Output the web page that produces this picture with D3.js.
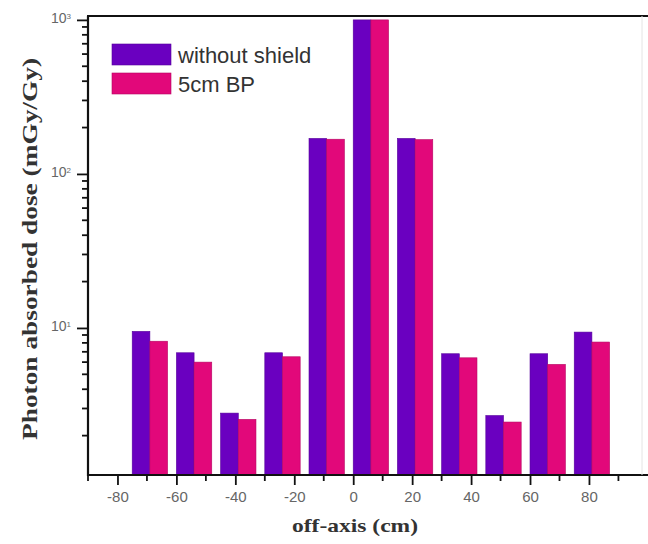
<!DOCTYPE html>
<html lang="en">
<head>
<meta charset="utf-8">
<title>Photon absorbed dose</title>
<script src="https://d3js.org/d3.v7.min.js"></script>
<style>
  body { margin: 0; background: #fff; }
  .tick text { font-family: "Liberation Sans", Arial, sans-serif; fill: #666; }
</style>
</head>
<body>
<script>
// data
const positions = [-75, -60, -45, -30, -15, 0, 15, 30, 45, 60, 75];
const withoutShield = [9.5, 6.9, 2.8, 6.9, 170, 1000, 170, 6.8, 2.7, 6.8, 9.4];
const bp5cm = [8.2, 6.0, 2.55, 6.5, 168, 1000, 167, 6.4, 2.45, 5.8, 8.1];
const seriesNames = ["without shield", "5cm BP"];
const xTicks = [-80, -60, -40, -20, 0, 20, 40, 60, 80];
const yTicks = [10, 100, 1000];

const width = 648, height = 544;
const plotL = 88, plotR = 642, plotT = 16, plotB = 475;
const colors = ["#6a00c0", "#e2087a"];
const barW = 6; // in x units

const svg = d3.select("body").append("svg")
  .attr("width", width).attr("height", height);

const x = d3.scaleLinear().domain([-90, 98]).range([plotL, plotR]);
const y = d3.scaleLog().domain([1.11, 1060]).range([plotB, plotT]);

// bars
[withoutShield, bp5cm].forEach((vals, s) => {
  svg.append("g").selectAll("rect")
    .data(positions)
    .join("rect")
    .attr("x", (d) => x(d + s * barW))
    .attr("width", x(barW) - x(0))
    .attr("y", (d, i) => y(vals[i]))
    .attr("height", (d, i) => plotB - y(vals[i]))
    .attr("fill", colors[s])
    .attr("stroke", d3.color(colors[s]).darker(0.6))
    .attr("stroke-width", 0.6);
});

// minor ticks
const xMinor = d3.range(-90, 100, 10).filter(v => v % 20 !== 0);
svg.append("g").selectAll("line")
  .data(xMinor)
  .join("line")
  .attr("x1", d => x(d)).attr("x2", d => x(d))
  .attr("y1", plotB).attr("y2", plotB + 6)
  .attr("stroke", "#111").attr("stroke-width", 1.8);

const yMinor = [];
[1, 10, 100].forEach(dec => {
  for (let k = 2; k <= 9; k++) {
    if (dec * k > 1.11 && dec * k < 1060) yMinor.push(dec * k);
  }
});
svg.append("g").selectAll("line")
  .data(yMinor)
  .join("line")
  .attr("x1", plotL - 6).attr("x2", plotL)
  .attr("y1", d => y(d)).attr("y2", d => y(d))
  .attr("stroke", "#111").attr("stroke-width", 1.8);

// x axis
svg.append("g")
  .attr("transform", `translate(0,${plotB})`)
  .call(d3.axisBottom(x).tickValues(xTicks).tickSize(10).tickPadding(6).tickFormat(d => d))
  .call(g => g.select(".domain").remove())
  .call(g => g.selectAll("line").attr("stroke", "#111").attr("stroke-width", 1.8))
  .call(g => g.selectAll("text").attr("font-size", 15));

// y axis
const yAx = svg.append("g")
  .attr("transform", `translate(${plotL},0)`)
  .call(d3.axisLeft(y).tickValues(yTicks).tickSize(11).tickPadding(6).tickFormat(() => ""))
  .call(g => g.select(".domain").remove())
  .call(g => g.selectAll("line").attr("stroke", "#111").attr("stroke-width", 1.8));
yAx.selectAll(".tick text").each(function (d) {
  const t = d3.select(this).attr("font-size", 14).attr("dy", "0.2em");
  t.append("tspan").text("10");
  t.append("tspan").attr("dy", "-0.55em").attr("font-size", "8px")
    .text(Math.round(Math.log10(d)));
});

// frame
svg.append("line").attr("x1", plotL).attr("x2", plotL).attr("y1", plotT).attr("y2", plotB + 1)
  .attr("stroke", "#111").attr("stroke-width", 2.2);
svg.append("line").attr("x1", plotL - 1).attr("x2", width).attr("y1", plotB).attr("y2", plotB)
  .attr("stroke", "#111").attr("stroke-width", 2.2);
svg.append("line").attr("x1", plotL - 1).attr("x2", width).attr("y1", plotT).attr("y2", plotT)
  .attr("stroke", "#111").attr("stroke-width", 2.2);
svg.append("line").attr("x1", plotR).attr("x2", plotR).attr("y1", plotT).attr("y2", plotB)
  .attr("stroke", "#e4e4e4").attr("stroke-width", 1);

// axis titles
svg.append("text")
  .attr("x", 355).attr("y", 532)
  .attr("text-anchor", "middle")
  .attr("font-family", "Liberation Serif, Times New Roman, serif")
  .attr("font-weight", "bold").attr("font-size", 19).attr("fill", "#333")
  .attr("textLength", 126).attr("lengthAdjust", "spacingAndGlyphs")
  .text("off-axis (cm)");
svg.append("text")
  .attr("transform", "translate(37,249) rotate(-90)")
  .attr("text-anchor", "middle")
  .attr("font-family", "Liberation Serif, Times New Roman, serif")
  .attr("font-weight", "bold").attr("font-size", 22).attr("fill", "#333")
  .attr("textLength", 382).attr("lengthAdjust", "spacingAndGlyphs")
  .text("Photon absorbed dose (mGy/Gy)");

// legend
const legend = svg.append("g");
seriesNames.forEach((name, i) => {
  legend.append("rect")
    .attr("x", 112).attr("y", 44 + i * 29)
    .attr("width", 59).attr("height", 21)
    .attr("fill", colors[i])
    .attr("stroke", d3.color(colors[i]).darker(0.6)).attr("stroke-width", 0.6);
  legend.append("text")
    .attr("x", 178).attr("y", 63 + i * 29)
    .attr("font-family", "Liberation Sans, Arial, sans-serif")
    .attr("font-size", 22).attr("fill", "#333")
    .text(name);
});
</script>
</body>
</html>
